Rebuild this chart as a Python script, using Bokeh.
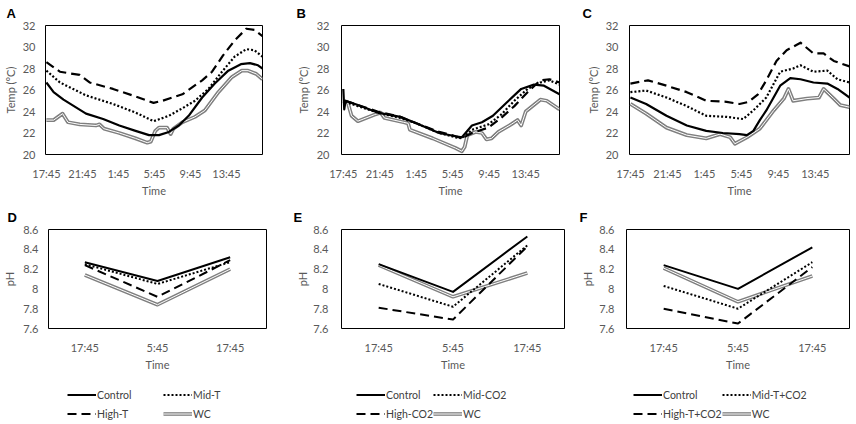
from bokeh.plotting import figure
from bokeh.models import FixedTicker, Range1d, Title, Legend, LegendItem
from bokeh.layouts import row, column
from bokeh.embed import file_html
from bokeh.resources import INLINE

# ---------------- tick labels ----------------
time_ticks = [0, 4, 8, 12, 16, 20]
time_labels = ["17:45", "21:45", "1:45", "5:45", "9:45", "13:45"]
temp_ticks = [20, 22, 24, 26, 28, 30, 32]
ph_ticks = [7.6, 7.8, 8.0, 8.2, 8.4, 8.6]
ph_labels = ["7.6", "7.8", "8", "8.2", "8.4", "8.6"]
sample_pos = [0, 1, 2]
sample_labels = ["17:45", "5:45", "17:45"]

# ---------------- panel A (temperature, hours since 17:45) ----------------
a_control_h = [0, 0.8, 1.9, 4.4, 6.3, 8.1, 9.9, 11.4, 12.5, 13.6, 14.7, 15.8, 17.3, 18.7, 20.2, 21.6, 22.6, 23.5, 24.0]
a_control = [26.7, 25.8, 25.1, 23.8, 23.3, 22.7, 22.2, 21.8, 21.8, 22.1, 22.7, 23.6, 25.3, 26.6, 27.8, 28.4, 28.5, 28.3, 28.0]
a_mid_h = [0, 1.5, 4.4, 7.4, 9.9, 11.9, 13.6, 15.1, 16.5, 18.0, 19.5, 20.9, 22.2, 23.1, 24.0]
a_mid = [27.8, 26.7, 25.5, 24.7, 23.9, 23.1, 23.6, 24.3, 25.0, 26.1, 27.7, 29.1, 29.8, 29.7, 29.1]
a_high_h = [0, 1.5, 3.7, 4.8, 7.4, 9.9, 11.9, 12.9, 15.1, 17.3, 18.4, 19.6, 20.9, 22.2, 23.1, 24.0]
a_high = [28.6, 27.7, 27.4, 26.7, 26.1, 25.4, 24.8, 25.0, 25.6, 26.9, 27.7, 29.2, 30.6, 31.7, 31.6, 31.0]
a_wc_h = [0, 0.8, 1.3, 1.8, 2.4, 3.7, 5.5, 5.9, 6.4, 8.1, 9.9, 11.2, 11.6, 12.1, 12.5, 13.4, 13.8, 14.1, 15.1, 16.5, 17.6, 19.1, 20.6, 21.7, 22.4, 23.3, 24.0]
a_wc = [23.2, 23.2, 23.5, 23.8, 23.0, 22.8, 22.7, 22.8, 22.4, 22.0, 21.5, 21.1, 21.2, 22.2, 22.5, 22.5, 21.9, 22.4, 23.0, 23.5, 24.1, 25.8, 27.2, 27.8, 27.8, 27.5, 27.0]

# ---------------- panel B ----------------
b_control_h = [0, 0.1, 0.25, 1.6, 3.75, 6.25, 8.0, 10.5, 12.3, 13.0, 14.1, 15.2, 16.4, 18.0, 19.5, 20.9, 22.0, 23.7]
b_control = [26.1, 24.2, 25.0, 24.6, 23.9, 23.5, 22.9, 22.0, 21.7, 21.6, 22.7, 23.0, 23.6, 24.9, 26.1, 26.5, 26.4, 25.6]
b_mid_h = [0.2, 1.6, 3.75, 6.25, 8.0, 10.5, 12.3, 13.0, 14.1, 15.9, 17.3, 18.75, 20.2, 21.6, 22.6, 23.7]
b_mid = [24.9, 24.5, 23.9, 23.4, 22.9, 22.0, 21.6, 21.5, 22.3, 22.8, 23.7, 25.0, 26.1, 26.7, 26.9, 26.5]
b_high_h = [0.2, 1.6, 3.75, 6.25, 8.0, 10.5, 12.3, 13.0, 14.1, 15.9, 17.3, 18.75, 20.2, 21.6, 22.6, 23.7]
b_high = [25.0, 24.6, 24.0, 23.5, 22.9, 22.1, 21.7, 21.5, 22.0, 22.5, 23.4, 24.5, 25.8, 26.9, 27.0, 26.7]
b_wc_h = [0, 0.5, 0.9, 1.6, 3.4, 4.1, 4.5, 6.6, 7.1, 7.3, 9.8, 12.3, 13.0, 13.3, 13.6, 14.5, 15.2, 15.7, 16.25, 17.0, 18.4, 19.1, 19.5, 20.0, 21.6, 22.3, 23.7]
b_wc = [25.0, 24.8, 23.6, 23.1, 23.7, 23.9, 23.4, 23.0, 22.9, 22.3, 21.5, 20.6, 20.3, 20.7, 21.8, 22.1, 22.0, 21.4, 21.5, 22.1, 22.8, 23.2, 22.7, 24.0, 25.1, 25.0, 24.2]

# ---------------- panel C ----------------
c_control_h = [0, 1.7, 3.9, 6.1, 8.2, 10.0, 11.8, 12.6, 13.3, 14.0, 14.7, 16.2, 17.3, 18.4, 19.8, 21.3, 22.4, 23.7]
c_control = [25.3, 24.7, 23.6, 22.7, 22.2, 22.0, 21.9, 21.8, 22.2, 23.2, 24.1, 26.4, 27.1, 27.0, 26.7, 26.6, 26.1, 25.3]
c_mid_h = [0, 1.7, 3.9, 6.1, 8.2, 10.4, 12.2, 13.3, 14.7, 16.2, 17.6, 18.4, 19.8, 21.3, 22.4, 23.7]
c_mid = [25.8, 25.95, 25.3, 24.5, 23.6, 23.5, 23.3, 24.1, 25.3, 27.7, 28.0, 28.3, 27.7, 27.8, 27.0, 26.7]
c_high_h = [0, 1.9, 3.9, 6.1, 8.2, 10.4, 11.8, 12.8, 13.8, 14.7, 15.8, 16.9, 18.4, 19.8, 20.9, 22.0, 23.7]
c_high = [26.6, 26.9, 26.4, 25.8, 25.0, 24.9, 24.7, 24.9, 25.6, 26.9, 28.7, 29.7, 30.4, 29.4, 29.4, 28.7, 28.2]
c_wc_h = [0, 1.7, 3.9, 6.1, 8.2, 9.7, 10.8, 11.3, 12.6, 14.0, 15.5, 16.6, 17.1, 17.6, 19.1, 20.4, 20.9, 22.0, 22.7, 23.7]
c_wc = [24.7, 23.8, 22.5, 21.8, 21.5, 21.9, 21.6, 21.0, 21.6, 22.4, 24.1, 25.2, 26.1, 25.0, 25.2, 25.3, 26.1, 25.2, 24.6, 24.4]

# ---------------- panels D, E, F (pH) ----------------
d_control = [8.27, 8.08, 8.32]
d_mid = [8.25, 8.05, 8.27]
d_high = [8.24, 7.92, 8.29]
d_wc = [8.14, 7.84, 8.20]
e_control = [8.25, 7.97, 8.53]
e_mid = [8.05, 7.82, 8.44]
e_high = [7.81, 7.69, 8.43]
e_wc = [8.24, 7.92, 8.16]
f_control = [8.24, 8.00, 8.42]
f_mid = [8.03, 7.80, 8.27]
f_high = [7.80, 7.65, 8.22]
f_wc = [8.21, 7.87, 8.13]

d_names = ["Control", "Mid-T", "High-T", "WC"]
e_names = ["Control", "Mid-CO2", "High-CO2", "WC"]
f_names = ["Control", "Mid-T+CO2", "High-T+CO2", "WC"]

FONT = "Lato"
GRAY = "#595959"


def base_fig(width, height, left, right, top, bottom, xr, yr, ylabel,
             ylab_standoff, ytick_standoff):
    p = figure(width=width, height=height, x_range=xr, y_range=yr,
               min_border_left=left, min_border_right=right,
               min_border_top=top, min_border_bottom=bottom,
               output_backend="svg", toolbar_location=None, title=None)
    p.xgrid.visible = False
    p.ygrid.visible = False
    p.outline_line_color = "black"
    p.outline_line_width = 1
    p.outline_line_alpha = 1
    for ax in (p.xaxis[0], p.yaxis[0]):
        ax.axis_line_color = None
        ax.major_tick_line_color = None
        ax.minor_tick_line_color = None
        ax.major_tick_out = 0
        ax.major_tick_in = 0
        ax.minor_tick_out = 0
        ax.minor_tick_in = 0
        ax.major_label_text_font = FONT
        ax.major_label_text_font_size = "11px"
        ax.major_label_text_color = GRAY
        ax.axis_label_text_font = FONT
        ax.axis_label_text_font_size = "11px"
        ax.axis_label_text_font_style = "normal"
        ax.axis_label_text_color = GRAY
    p.xaxis[0].axis_label = "Time"
    p.xaxis[0].major_label_standoff = 12
    p.xaxis[0].axis_label_standoff = 1
    p.yaxis[0].axis_label = ylabel
    p.yaxis[0].major_label_standoff = ytick_standoff
    p.yaxis[0].axis_label_standoff = ylab_standoff
    return p


def letter(p, text, dx):
    p.add_layout(Title(text=text, align="left", offset=dx, standoff=6,
                       vertical_align="top",
                       text_font="Liberation Sans", text_font_style="bold",
                       text_font_size="13px", text_color="black"), "above")


def style_four(p, hs, ys, lw):
    (hc, hm, hh, hw) = hs
    (yc, ym, yh, yw) = ys
    w1 = p.line(hw, yw, line_color="#7f7f7f", line_width=lw + 1.6, line_join="round")
    w2 = p.line(hw, yw, line_color="white", line_width=1.0, line_join="round")
    rh = p.line(hh, yh, line_color="black", line_width=lw, line_dash="9 5", line_join="round")
    rm = p.line(hm, ym, line_color="black", line_width=lw, line_dash="2 2", line_join="round")
    rc = p.line(hc, yc, line_color="black", line_width=lw, line_join="round")
    return rc, rm, rh, [w1, w2]


def temp_fig(width, left, right, xr, letter_text, letter_dx, ylab_standoff, ytick_standoff, hs, ys):
    top, bottom, frame_h = 25, 51, 129
    p = base_fig(width, top + frame_h + bottom, left, right, top, bottom,
                 Range1d(*xr), Range1d(20, 32), "Temp (\u00b0C)", ylab_standoff, ytick_standoff)
    p.xaxis[0].ticker = FixedTicker(ticks=time_ticks)
    p.xaxis[0].major_label_overrides = dict(zip(time_ticks, time_labels))
    p.yaxis[0].ticker = FixedTicker(ticks=temp_ticks)
    style_four(p, hs, ys, 2.2)
    letter(p, letter_text, letter_dx)
    return p


def ph_fig(width, left, right, letter_text, letter_dx, ylab_standoff, ytick_standoff, vals):
    top, bottom, frame_h = 24, 48, 99
    p = base_fig(width, top + frame_h + bottom, left, right, top, bottom,
                 Range1d(-0.5, 2.5), Range1d(7.6, 8.6), "pH", ylab_standoff, ytick_standoff)
    p.xaxis[0].ticker = FixedTicker(ticks=sample_pos)
    p.xaxis[0].major_label_overrides = dict(zip(sample_pos, sample_labels))
    p.yaxis[0].ticker = FixedTicker(ticks=ph_ticks)
    p.yaxis[0].major_label_overrides = dict(zip(ph_ticks, ph_labels))
    style_four(p, [sample_pos] * 4, vals, 2.0)
    letter(p, letter_text, letter_dx)
    return p


def legend_fig(width, names, vals, leg_dx, label_w):
    # a strip holding only the key; the same pH series are plotted here but
    # lie outside this strip's y range, so only the key itself is visible
    p = figure(width=width, height=48, x_range=Range1d(-0.5, 2.5), y_range=Range1d(20, 21),
               min_border_left=0, min_border_right=0, min_border_top=0, min_border_bottom=0,
               x_axis_type=None, y_axis_type=None,
               output_backend="svg", toolbar_location=None, title=None)
    p.xgrid.visible = False
    p.ygrid.visible = False
    p.outline_line_color = None
    rc, rm, rh, rw = style_four(p, [sample_pos] * 4, vals, 2.0)
    items = [LegendItem(label=names[0], renderers=[rc]),
             LegendItem(label=names[1], renderers=[rm]),
             LegendItem(label=names[2], renderers=[rh]),
             LegendItem(label=names[3], renderers=rw)]
    leg = Legend(items=items, location=(leg_dx, 1), orientation="horizontal", ncols=2,
                 glyph_width=29, glyph_height=19, label_height=19, label_width=label_w,
                 label_standoff=1, spacing=0, padding=0, margin=0,
                 border_line_color=None, background_fill_alpha=0,
                 label_text_font=FONT, label_text_font_size="10.5px",
                 label_text_color="#404040")
    p.add_layout(leg)
    return p


pA = temp_fig(293, 42, 31, (-0.1, 24.0), "A", -39, 3, 10,
              (a_control_h, a_mid_h, a_high_h, a_wc_h), (a_control, a_mid, a_high, a_wc))
pB = temp_fig(285, 44, 19, (-0.2, 23.7), "B", -45, 4, 12,
              (b_control_h, b_mid_h, b_high_h, b_wc_h), (b_control, b_mid, b_high, b_wc))
pC = temp_fig(278, 51, 7, (-0.1, 23.7), "C", -47, 3, 11,
              (c_control_h, c_mid_h, c_high_h, c_wc_h), (c_control, c_mid, c_high, c_wc))

d_vals = (d_control, d_mid, d_high, d_wc)
e_vals = (e_control, e_mid, e_high, e_wc)
f_vals = (f_control, f_mid, f_high, f_wc)

pD = ph_fig(293, 45, 27, "D", -41, 4, 10, d_vals)
pE = ph_fig(285, 47, 14, "E", -48, 1, 13, e_vals)
pF = ph_fig(278, 47, 7, "F", -47, 2, 12, f_vals)

lD = legend_fig(293, d_names, d_vals, 67, 66)
lE = legend_fig(285, e_names, e_vals, 63, 41)
lF = legend_fig(278, f_names, f_vals, 55, 56)

layout = column(row(pA, pB, pC, spacing=0), row(pD, pE, pF, spacing=0),
                row(lD, lE, lF, spacing=0), spacing=0)

with open("out.html", "w") as fh:
    fh.write(file_html(layout, INLINE))
